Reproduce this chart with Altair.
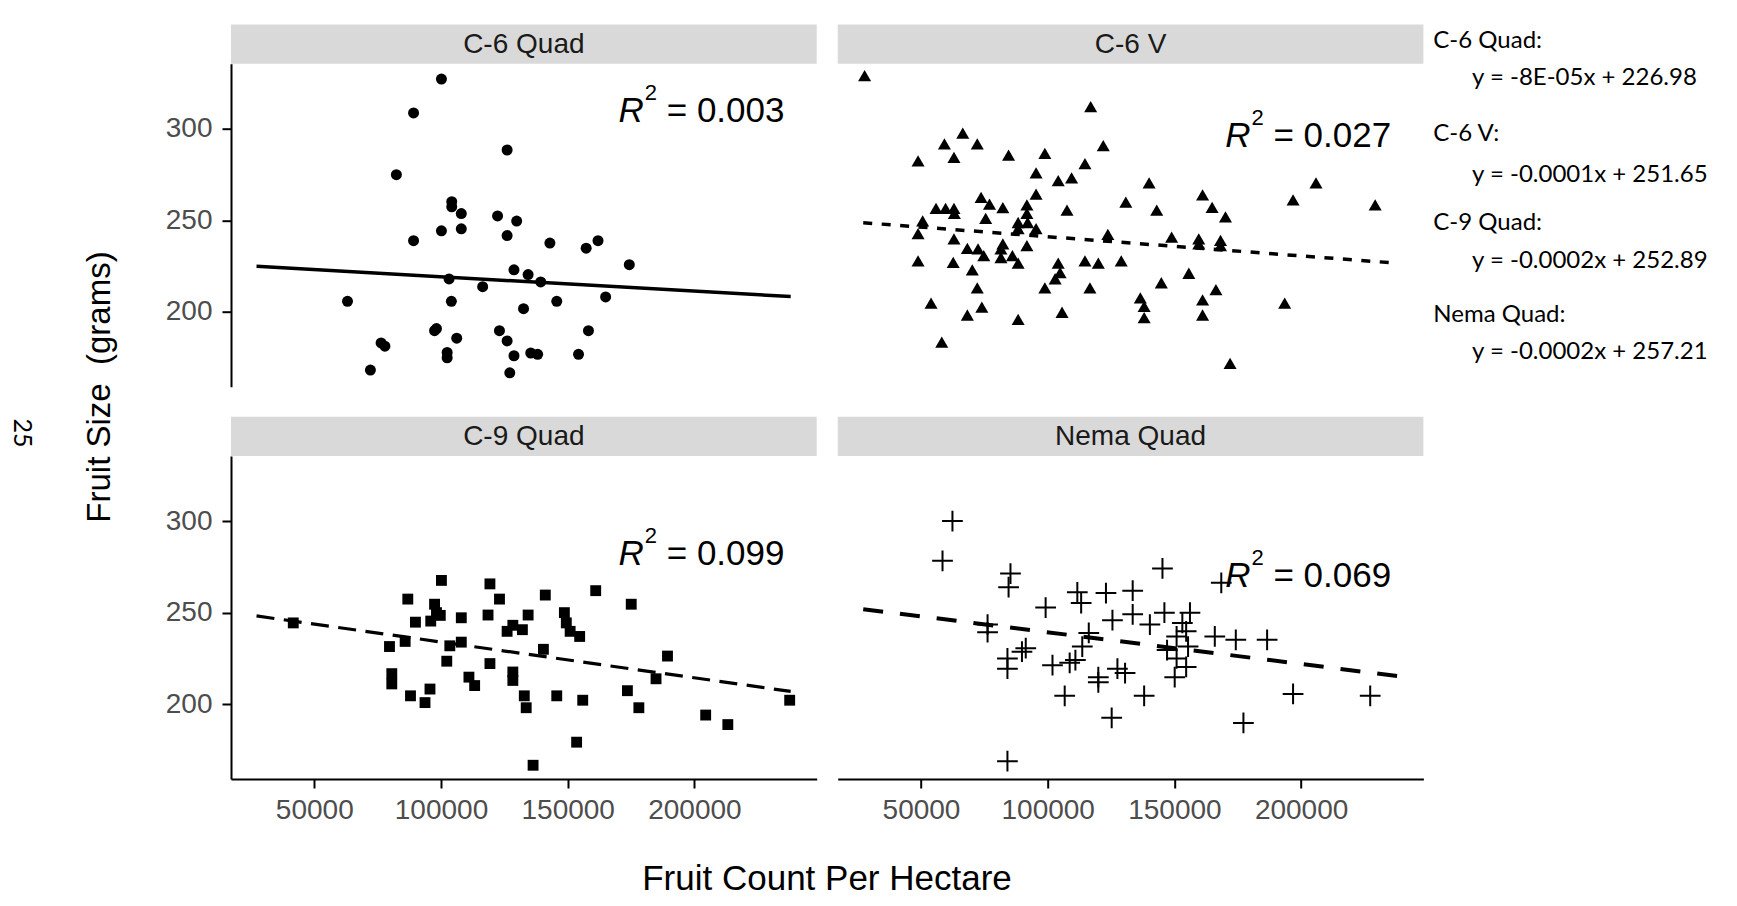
import altair as alt
import pandas as pd

# ---------------- data ----------------
panel_names = ["C-6 Quad", "C-6 V", "C-9 Quad", "Nema Quad"]

c6q_x = [100170, 89170, 126090, 82390, 104240, 104240, 108010, 122320, 129860, 100170,
         108010, 126090, 89170, 142970, 161960, 157290, 174310, 128800, 134380, 103180,
         139350, 116440, 164970, 63100, 104090, 145680, 132570, 98210, 97460, 158190,
         123070, 106200, 126090, 76360, 77860, 102430, 102430, 128800, 135430, 138150,
         154270, 72140, 127140]
c6q_y = [327.1, 308.6, 288.4, 274.9, 260.2, 257.4, 253.7, 252.4, 249.6, 244.3,
         245.4, 241.7, 238.9, 237.6, 238.9, 234.8, 225.8, 223.0, 220.4, 218.0,
         216.4, 213.8, 208.2, 205.8, 205.8, 205.8, 201.8, 190.9, 189.8, 189.8,
         189.8, 185.7, 184.2, 183.1, 181.3, 177.9, 175.0, 176.1, 177.6, 176.9,
         176.9, 168.3, 166.8]

c6v_x = [27750, 116960, 66480, 59240, 72200, 121930, 48840, 63010, 84560, 98880,
         114700, 95410, 104150, 109430, 140020, 205880, 73710, 55930, 59700, 63010,
         77030, 82300, 91790, 95410, 107620, 130830, 143030, 161120, 164880, 170160,
         196830, 229230, 63160, 75520, 91790, 50650, 88330, 88330, 95410, 48840,
         63010, 123740, 148910, 159610, 168200, 168200, 159610, 68290, 72510, 82300,
         74770, 81550, 86070, 91790, 88330, 48840, 62710, 104150, 104900, 102940,
         114700, 119970, 129020, 70240, 72200, 98880, 116660, 144840, 155690, 166390,
         53970, 74010, 68290, 88330, 105660, 136550, 138060, 138060, 161120, 161120,
         193520, 58190, 171970, 92090, 81550]
c6v_y = [328.0, 311.0, 296.6, 290.7, 290.7, 289.7, 281.4, 283.3, 284.6, 285.5,
         279.9, 274.9, 270.7, 272.2, 269.4, 269.4, 261.5, 255.5, 255.5, 255.5,
         257.8, 255.9, 257.4, 263.3, 254.6, 258.9, 254.6, 262.9, 256.1, 250.9,
         260.2, 257.4, 252.8, 250.0, 252.8, 248.7, 247.8, 244.5, 244.5, 241.7,
         238.9, 241.3, 239.8, 238.9, 238.0, 235.2, 236.1, 233.7, 233.4, 236.1,
         229.7, 228.7, 229.7, 235.2, 225.6, 226.9, 226.0, 225.6, 220.4, 217.1,
         226.9, 225.6, 226.9, 221.9, 212.1, 212.1, 212.1, 214.9, 220.1, 211.2,
         203.8, 201.6, 197.3, 194.9, 198.8, 206.6, 202.0, 195.9, 205.6, 197.3,
         203.8, 182.5, 170.9, 247.8, 233.4]

c9q_x = [100170, 119310, 161050, 86900, 123080, 141160, 175070, 97460, 98210, 99720,
         95950, 89920, 108010, 118560, 134380, 148690, 149450, 150960, 154720, 128350,
         126090, 132120, 79670, 85850, 103480, 108010, 140410, 102280, 119310, 189380,
         80580, 80580, 111020, 113280, 128350, 128350, 184860, 87960, 95650, 93690,
         132870, 133620, 145680, 155930, 173560, 178080, 204450, 213190, 237600, 153520,
         136340, 41700]
c9q_y = [267.6, 265.7, 262.0, 257.4, 257.4, 259.6, 254.6, 254.6, 250.0, 248.5,
         245.4, 244.8, 247.2, 248.7, 248.7, 250.0, 244.4, 239.8, 237.0, 243.1,
         239.8, 240.7, 231.5, 234.3, 231.9, 233.9, 230.0, 223.5, 222.2, 226.3,
         216.7, 211.1, 214.8, 210.2, 217.6, 213.0, 213.9, 204.6, 208.3, 200.9,
         204.6, 198.1, 204.6, 202.2, 207.4, 198.1, 194.1, 188.9, 202.2, 179.3,
         166.7, 244.4]

nema_x = [62410, 58490, 85310, 84560, 145290, 168500, 111690, 113200, 122990, 133540,
          99180, 125550, 133540, 146050, 140320, 156140, 153130, 154640, 150870, 165940,
          174230, 186590, 76270, 76270, 116210, 113640, 89840, 84110, 84110, 101890,
          108670, 110930, 119970, 119970, 127510, 130530, 147100, 150870, 154640, 150120,
          106710, 138060, 196830, 227270, 125250, 177240, 84110, 155390, 91340]
nema_y = [300.0, 278.3, 271.3, 263.9, 274.1, 266.3, 261.1, 255.2, 260.7, 262.0,
          252.8, 245.9, 249.1, 250.0, 243.5, 250.0, 244.4, 239.8, 237.0, 237.0,
          235.2, 235.2, 243.5, 239.3, 238.9, 231.5, 228.7, 225.0, 219.4, 221.3,
          222.6, 224.1, 214.8, 212.0, 219.4, 217.0, 229.6, 225.0, 220.4, 214.8,
          204.6, 204.6, 205.6, 204.6, 192.6, 189.8, 168.9, 231.5, 230.6]

# fitted-line end points
line_x = [27200, 238000]
c6q_line_y = [224.9, 208.4]
c6v_line_y = [248.7, 226.6]
c9q_line_y = [248.2, 207.0]
nema_line_y = [251.9, 215.4]

# R^2 annotations
r2_x = [180000, 180000, 180000, 180000]
r2_y = [303.5, 289.9, 276.0, 264.2]
r2_text = ["0.003", "0.027", "0.099", "0.069"]

# equations printed at the right
eq_titles = ["C-6 Quad:", "C-6 V:", "C-9 Quad:", "Nema Quad:"]
eq_texts = ["y = -8E-05x + 226.98", "y = -0.0001x + 251.65",
            "y = -0.0002x + 252.89", "y = -0.0002x + 257.21"]

x_ticks = [50000, 100000, 150000, 200000]
y_ticks = [200, 250, 300]

x_title = "Fruit Count Per Hectare"
y_title = "Fruit Size\u00a0 (grams)"
page_number = "25"

# ---------------- layout / style ----------------
W, H, STRIP = 585.7, 323, 39.3
X_DOMAIN = [17127, 248263]
Y_DOMAIN = [159.2, 335.5]
LEFT0, TOP0 = 231.0, 63.7          # page position of top-left plot origin
COL_GAP, ROW_GAP = 20.7, 69.3
FONT = "Liberation Sans"


def enc(show_x, show_y):
    xa = alt.Axis(values=x_ticks, format="d", title=None) if show_x else None
    ya = alt.Axis(values=y_ticks, format="d", title=None) if show_y else None
    x = alt.X("x:Q", scale=alt.Scale(domain=X_DOMAIN, nice=False, zero=False), axis=xa)
    y = alt.Y("y:Q", scale=alt.Scale(domain=Y_DOMAIN, nice=False, zero=False), axis=ya)
    return x, y


def make_panel(idx, xs, ys, marker, ly, dash, lw, show_x, show_y, extras=()):
    name = panel_names[idx]
    X, Y = enc(show_x, show_y)
    df = pd.DataFrame({"x": xs, "y": ys})
    base = alt.Chart(df)
    if marker == "circle":
        pts = base.mark_circle(size=121, color="black", opacity=1)
    elif marker == "triangle":
        pts = base.mark_point(shape="triangle", filled=True, size=170, color="black", opacity=1)
    elif marker == "square":
        pts = base.mark_square(size=118, color="black", opacity=1)
    else:
        pts = base.mark_point(shape="M-1,0L1,0M0,-1L0,1", filled=False, size=430,
                              color="black", strokeWidth=2, opacity=1)
    pts = pts.encode(x=X, y=Y)

    ldf = pd.DataFrame({"x": line_x, "y": ly})
    lkw = dict(color="black", strokeWidth=lw, strokeCap="butt")
    if dash:
        lkw["strokeDash"] = dash
    line = alt.Chart(ldf).mark_line(**lkw).encode(x=X, y=Y)

    rdf = pd.DataFrame({"x": [r2_x[idx]], "y": [r2_y[idx]], "t": ["= " + r2_text[idx]]})
    r_txt = alt.Chart(rdf).mark_text(text="R", font=FONT, fontStyle="italic", fontSize=35,
                                     align="right", baseline="alphabetic", color="black").encode(x=X, y=Y)
    sup = alt.Chart(rdf).mark_text(text="2", font=FONT, fontSize=22, align="left",
                                   baseline="alphabetic", dx=1, dy=-22, color="black").encode(x=X, y=Y)
    val = alt.Chart(rdf).mark_text(font=FONT, fontSize=35, align="left", baseline="alphabetic",
                                   dx=23, color="black").encode(x=X, y=Y, text="t:N")

    sdf = pd.DataFrame({"panel": [name]})
    strip = alt.Chart(sdf).mark_rect(color="#d9d9d9").encode(
        x=alt.value(0), x2=alt.value(W), y=alt.value(-STRIP), y2=alt.value(0))
    strip_txt = alt.Chart(sdf).mark_text(font=FONT, fontSize=28, color="#1a1a1a",
                                         baseline="middle", align="center").encode(
        x=alt.value(W / 2), y=alt.value(-STRIP / 2 + 1), text="panel:N")

    layers = [strip, strip_txt, line, pts, r_txt, sup, val] + list(extras)
    return alt.layer(*layers).properties(width=W, height=H)


def free_text(txt, px, py, origin, **kw):
    ox, oy = origin
    return alt.Chart(pd.DataFrame({"t": [txt]})).mark_text(**kw).encode(
        x=alt.value(px - ox), y=alt.value(py - oy), text="t:N")


o_tl = (LEFT0, TOP0)
o_tr = (LEFT0 + W + COL_GAP, TOP0)
o_bl = (LEFT0, TOP0 + H + ROW_GAP)

tl_extras = [
    free_text(y_title, 100, 387, o_tl, font=FONT, fontSize=33, angle=270, color="black",
              align="center", baseline="middle"),
    free_text(page_number, 21.7, 433, o_tl, font="Lato", fontSize=25, angle=90, color="black",
              align="center", baseline="middle"),
]
eq_title_y = [41, 134, 222.7, 314.6]
eq_text_y = [77.5, 175, 261, 352]
tr_extras = []
for i in range(4):
    tr_extras.append(free_text(eq_titles[i], 1433, eq_title_y[i], o_tr, font="Lato", fontSize=24,
                               color="black", align="left", baseline="middle"))
    tr_extras.append(free_text(eq_texts[i], 1471.7, eq_text_y[i], o_tr, font="Lato", fontSize=24,
                               color="black", align="left", baseline="middle"))
bl_extras = [
    free_text(x_title, 827, 890, o_bl, font=FONT, fontSize=35, color="black",
              align="center", baseline="alphabetic"),
]

tl = make_panel(0, c6q_x, c6q_y, "circle", c6q_line_y, None, 3.5, False, True, tl_extras)
tr = make_panel(1, c6v_x, c6v_y, "triangle", c6v_line_y, [9, 9.5], 3.5, False, False, tr_extras)
bl = make_panel(2, c9q_x, c9q_y, "square", c9q_line_y, [18, 9.5], 3.2, True, True, bl_extras)
br = make_panel(3, nema_x, nema_y, "plus", nema_line_y, [20, 17], 4, True, False)

SVG_W, SVG_H = 1715, 890
chart = alt.concat(
    tl, tr, bl, br, columns=2,
    spacing={"row": ROW_GAP, "column": COL_GAP}, bounds="flush",
).properties(
    autosize=alt.AutoSizeParams(type="none"),
    padding={"left": LEFT0 - 8, "top": TOP0 - 8,
             "right": SVG_W - (LEFT0 - 8), "bottom": SVG_H - (TOP0 - 8)},
    background="white",
).configure_view(stroke=None).configure_axis(
    grid=False, domainColor="black", domainWidth=2, tickColor="black", tickWidth=2,
    tickSize=9, labelColor="#4d4d4d", labelFont=FONT, labelFontSize=28,
).configure_axisX(labelPadding=8).configure_axisY(labelPadding=10)

chart.save("out.html", embed_options={"renderer": "svg", "actions": False})
